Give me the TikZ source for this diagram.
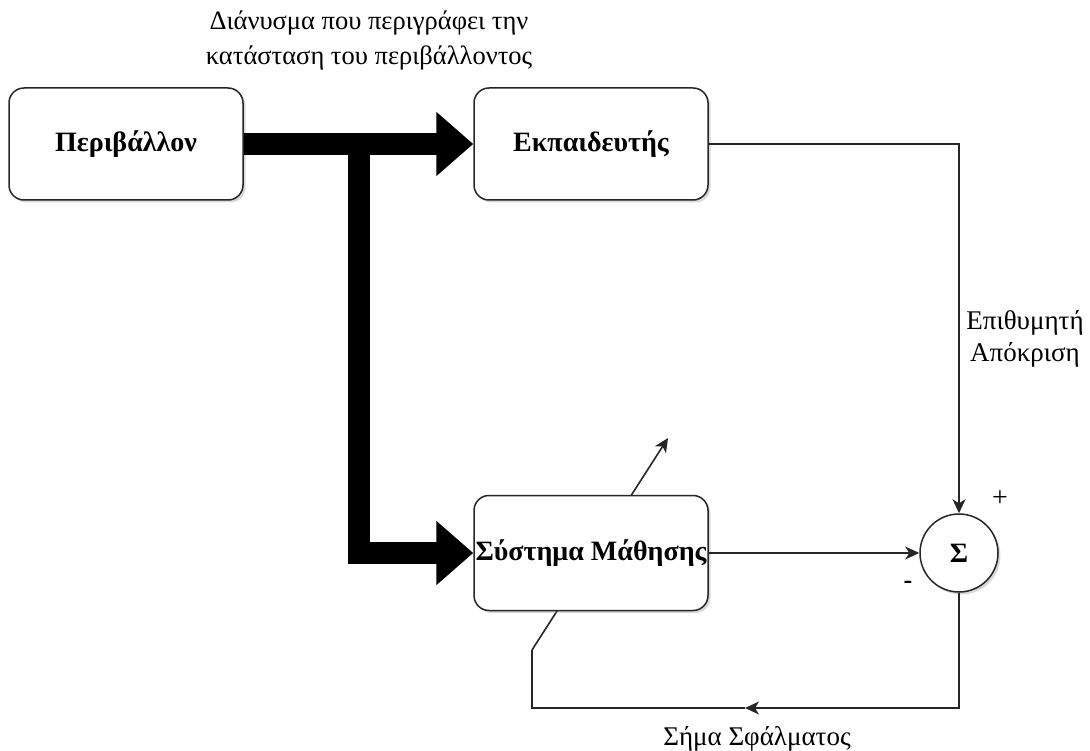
\documentclass[tikz,border=0pt]{standalone}
\usepackage{fontspec}
\setmainfont{Liberation Serif}
\usetikzlibrary{arrows.meta,shadows,backgrounds}

\tikzset{
  block/.style={draw=black!85, line width=1.5pt, fill=white, rounded corners=15pt,
    minimum width=234pt, inner sep=0pt,
    font=\fontsize{28}{32}\selectfont\bfseries,
    drop shadow={shadow xshift=2.5pt, shadow yshift=-2.5pt, opacity=0.3}},
  sumnode/.style={circle, draw=black!85, line width=1.5pt, fill=white,
    minimum size=78pt, inner sep=0pt, font=\fontsize{28}{32}\selectfont\bfseries,
    drop shadow={shadow xshift=2.5pt, shadow yshift=-2.5pt, opacity=0.3}},
  signal/.style={draw=black!85, line width=1.6pt},
  sigarrow/.style={signal, -{Stealth[length=14pt, width=13pt, inset=4pt]}},
  bus/.style={draw=black, line width=22pt, line join=miter,
    -{Triangle[length=37pt, width=62pt]}},
  lbl/.style={font=\fontsize{27}{34}\selectfont, align=center, inner sep=0pt}
}

\begin{document}
\begin{tikzpicture}[x=1pt, y=-1pt]
\useasboundingbox (0,0) rectangle (1090,751);

% blocks
\node[block, minimum height=112pt] (env) at (126,144) {Περιβάλλον};
\node[block, minimum height=112pt] (trainer) at (591,144) {Εκπαιδευτής};
\node[block, minimum height=115pt] (learn) at (591,553) {Σύστημα Μάθησης};
\node[sumnode] (sig) at (959,553) {Σ};

% helper points
\coordinate (branch) at (359,144);
\coordinate (fbc) at (959,708);
\coordinate (fbarrow) at (745,708);
\coordinate (fbl) at (532,708);
\coordinate (fbk) at (532,650);
\coordinate (adj) at (668,438);

% wide bus from the environment to trainer and learning system
\draw[bus] (env.east) -- (trainer.west);
\draw[bus] (branch) |- (learn.west);

% signal lines
\draw[sigarrow] (trainer.east) -| (sig.north);
\draw[sigarrow] (learn.east) -- (sig.west);
\draw[sigarrow] (sig.south) -- (fbc) -- (fbarrow);
\draw[signal] (fbarrow) -- (fbl) -- (fbk);

% adjustment arrow through the learning system
\begin{scope}[on background layer]
  \draw[sigarrow] (fbk) -- (adj);
\end{scope}

% labels
\node[lbl, font=\fontsize{26.5}{35}\selectfont] (tvec) at (369,40) {Διάνυσμα που περιγράφει την\\κατάσταση του περιβάλλοντος};
\node[lbl, font=\fontsize{27}{32}\selectfont] (tdes) at (1025,339) {Επιθυμητή\\Απόκριση};
\node[lbl] (terr) at (757,739) {Σήμα Σφάλματος};
\node[lbl, font=\fontsize{28}{32}\selectfont] (tplus) at (1000,499) {+};
\node[lbl, font=\fontsize{26}{30}\selectfont\bfseries] (tminus) at (908,585) {-};
\end{tikzpicture}
\end{document}
